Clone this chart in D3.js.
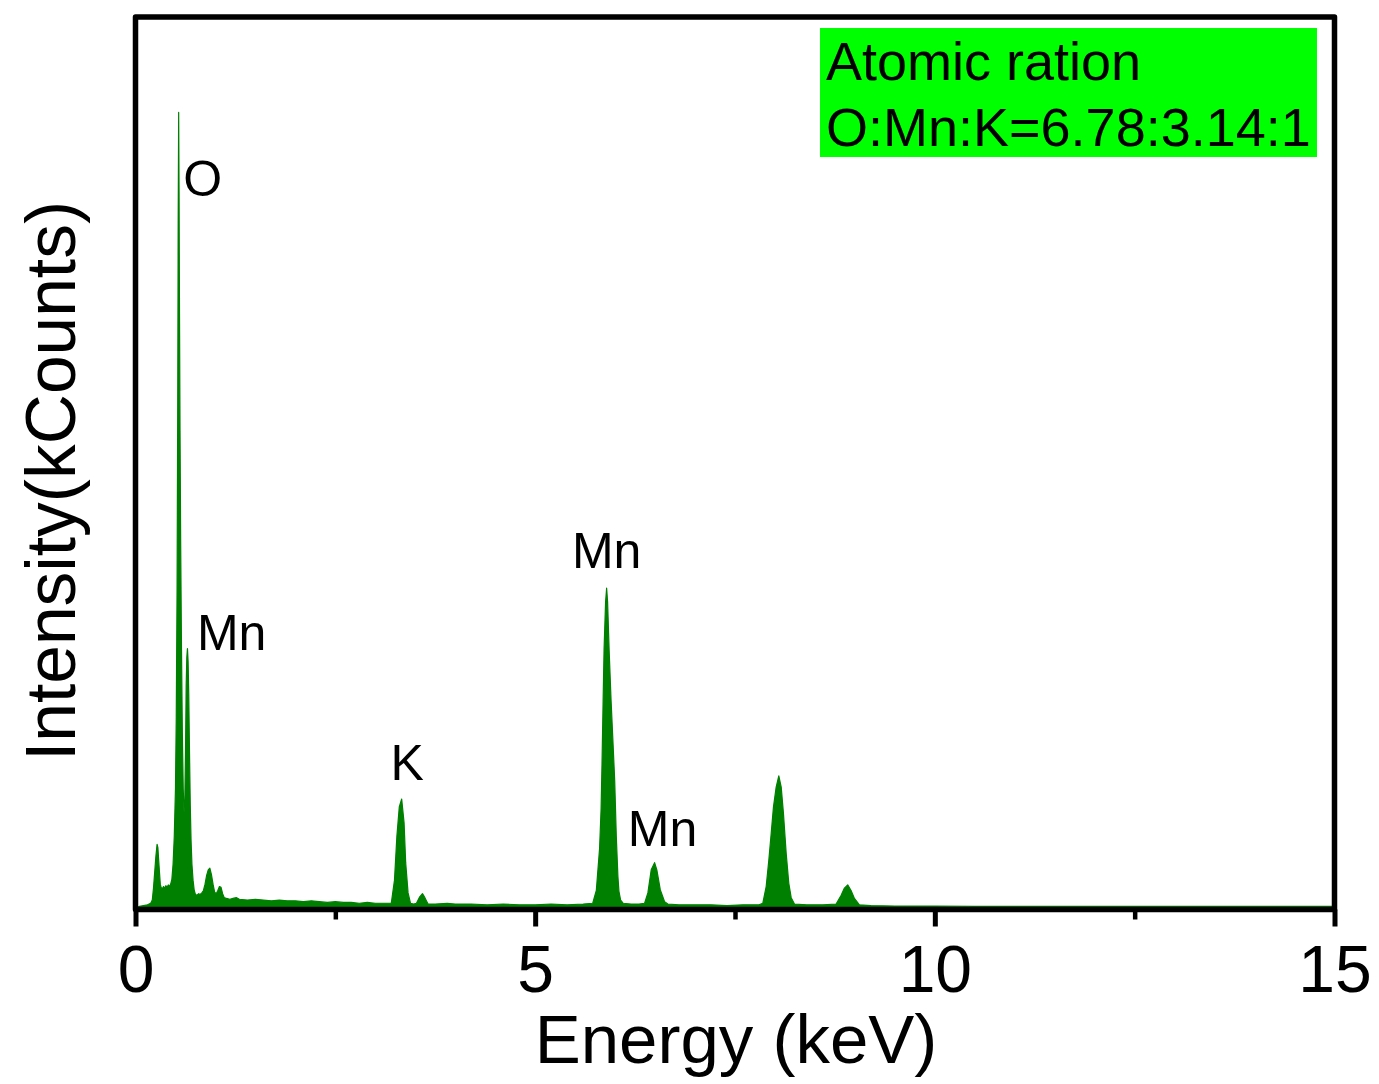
<!DOCTYPE html>
<html>
<head>
<meta charset="utf-8">
<title>EDS spectrum</title>
<script src="https://cdn.jsdelivr.net/npm/d3@7/dist/d3.min.js"></script>
<style>
  html, body { margin: 0; padding: 0; background: #fff; }
  svg { display: block; }
</style>
</head>
<body>
<svg id="chart" width="1379" height="1084"></svg>
<script>
// EDS spectrum: [energy (keV), intensity (kCounts)]
const spectrum = [
  [0.00, 0.00], [0.05, 0.02], [0.10, 0.03], [0.15, 0.04], [0.19, 0.06],
  [0.21, 0.10], [0.225, 0.25], [0.24, 0.45], [0.255, 0.65], [0.27, 0.80],
  [0.28, 0.76], [0.29, 0.60], [0.30, 0.45], [0.31, 0.30], [0.32, 0.26],
  [0.335, 0.24], [0.35, 0.27], [0.365, 0.25], [0.38, 0.28], [0.395, 0.26],
  [0.41, 0.29], [0.425, 0.27], [0.44, 0.30], [0.455, 0.36], [0.47, 0.55],
  [0.485, 0.90], [0.50, 1.50], [0.51, 2.40], [0.52, 4.00], [0.528, 6.20],
  [0.534, 8.60], [0.540, 10.00], [0.545, 9.00], [0.550, 7.60], [0.557, 6.00],
  [0.565, 4.60], [0.575, 3.30], [0.586, 2.20], [0.597, 1.50], [0.607, 1.20],
  [0.617, 1.35], [0.626, 2.00], [0.634, 2.80], [0.642, 3.15], [0.650, 3.26],
  [0.658, 3.10], [0.666, 2.70], [0.675, 2.00], [0.685, 1.30], [0.695, 0.85],
  [0.706, 0.55], [0.72, 0.35], [0.735, 0.22], [0.75, 0.17], [0.77, 0.16],
  [0.79, 0.18], [0.81, 0.17], [0.83, 0.19], [0.85, 0.22], [0.87, 0.30],
  [0.89, 0.41], [0.91, 0.48], [0.93, 0.50], [0.95, 0.42], [0.97, 0.30],
  [0.99, 0.20], [1.01, 0.18], [1.03, 0.22], [1.05, 0.27], [1.07, 0.26],
  [1.09, 0.18], [1.11, 0.13], [1.14, 0.12], [1.18, 0.11], [1.22, 0.12],
  [1.26, 0.13], [1.30, 0.11], [1.40, 0.10], [1.50, 0.11], [1.60, 0.10],
  [1.70, 0.09], [1.80, 0.10], [1.90, 0.09], [2.00, 0.09], [2.10, 0.08],
  [2.20, 0.09], [2.30, 0.08], [2.40, 0.07], [2.50, 0.08], [2.60, 0.07],
  [2.70, 0.07], [2.80, 0.06], [2.90, 0.07], [3.00, 0.06], [3.10, 0.06],
  [3.20, 0.06], [3.24, 0.35], [3.27, 0.90], [3.30, 1.27], [3.33, 1.37],
  [3.36, 1.07], [3.38, 0.57], [3.41, 0.19], [3.44, 0.06], [3.48, 0.05],
  [3.515, 0.06], [3.556, 0.14], [3.59, 0.18], [3.62, 0.13], [3.66, 0.05],
  [3.75, 0.05], [3.90, 0.06], [4.00, 0.05], [4.20, 0.05], [4.40, 0.04],
  [4.60, 0.05], [4.80, 0.04], [5.00, 0.04], [5.20, 0.05], [5.40, 0.04],
  [5.60, 0.05], [5.72, 0.06], [5.765, 0.22], [5.806, 0.75], [5.825, 1.25],
  [5.836, 1.80], [5.85, 2.60], [5.862, 3.25], [5.881, 3.85], [5.894, 4.02],
  [5.906, 3.85], [5.925, 3.25], [5.95, 2.60], [5.975, 2.05], [5.995, 1.60],
  [6.015, 0.90], [6.035, 0.40], [6.048, 0.21], [6.069, 0.10], [6.10, 0.06],
  [6.20, 0.05], [6.30, 0.05], [6.369, 0.06], [6.41, 0.19], [6.452, 0.48],
  [6.494, 0.57], [6.522, 0.48], [6.565, 0.23], [6.619, 0.08], [6.66, 0.05],
  [6.80, 0.04], [7.00, 0.04], [7.20, 0.04], [7.40, 0.03], [7.60, 0.04],
  [7.80, 0.04], [7.848, 0.06], [7.89, 0.27], [7.923, 0.60], [7.953, 0.94],
  [7.981, 1.27], [8.015, 1.52], [8.048, 1.66], [8.078, 1.52], [8.106, 1.19],
  [8.14, 0.69], [8.173, 0.31], [8.203, 0.13], [8.244, 0.05], [8.40, 0.04],
  [8.60, 0.04], [8.765, 0.05], [8.828, 0.16], [8.869, 0.25], [8.91, 0.29],
  [8.952, 0.22], [8.994, 0.12], [9.056, 0.04], [9.20, 0.03], [9.50, 0.025],
  [10.0, 0.025], [10.5, 0.02], [11.0, 0.02], [12.0, 0.02], [13.0, 0.02],
  [14.0, 0.02], [15.0, 0.02]
];

const xTickValues = [0, 5, 10, 15];
const xMinorTickValues = [2.5, 7.5, 12.5];
const peakNames = ["O", "Mn", "K", "Mn", "Mn"];
const peakEnergies = [0.540, 0.650, 3.33, 5.894, 6.494];
const ratioLines = ["Atomic ration", "O:Mn:K=6.78:3.14:1"];
const xTitle = "Energy (keV)";
const yTitle = "Intensity(kCounts)";

// ---- layout ----
const FONT = "'Liberation Sans', Arial, Helvetica, sans-serif";
const plot = { left: 135.5, right: 1334.5, top: 17, bottom: 909.5 };
const GREEN = "#008000";

const svg = d3.select("#chart");

const x = d3.scaleLinear().domain([0, 15]).range([plot.left, plot.right]);
const y = d3.scaleLinear().domain([0, 11.2]).range([908, plot.top]);

// spectrum fill
const area = d3.area()
  .x(d => x(d[0]))
  .y0(y(0))
  .y1(d => y(d[1]));

svg.append("path")
  .datum(spectrum)
  .attr("d", area)
  .attr("fill", GREEN)
  .attr("stroke", GREEN)
  .attr("stroke-width", 1.2)
  .attr("stroke-linejoin", "round");

// frame
svg.append("rect")
  .attr("x", plot.left)
  .attr("y", plot.top)
  .attr("width", plot.right - plot.left)
  .attr("height", plot.bottom - plot.top)
  .attr("fill", "none")
  .attr("stroke", "#000")
  .attr("stroke-width", 5.5)
  .attr("stroke-linejoin", "round");

// x axis: major ticks with labels
const xAxis = svg.append("g")
  .attr("transform", `translate(0,${plot.bottom})`)
  .call(d3.axisBottom(x).tickValues(xTickValues).tickSize(17).tickSizeOuter(0).tickPadding(18.5).tickFormat(d3.format("d")));
xAxis.select(".domain").remove();
xAxis.selectAll(".tick line").attr("stroke", "#000").attr("stroke-width", 5);
xAxis.selectAll(".tick text")
  .attr("fill", "#000")
  .style("font-family", FONT)
  .style("font-size", "66px");

// x axis: minor ticks
const xMinor = svg.append("g")
  .attr("transform", `translate(0,${plot.bottom})`)
  .call(d3.axisBottom(x).tickValues(xMinorTickValues).tickSize(10).tickSizeOuter(0).tickFormat(""));
xMinor.select(".domain").remove();
xMinor.selectAll(".tick line").attr("stroke", "#000").attr("stroke-width", 4.5);

// axis titles
svg.append("text")
  .attr("x", (plot.left + plot.right) / 2 + 1)
  .attr("y", 1063)
  .attr("text-anchor", "middle")
  .style("font-family", FONT)
  .style("font-size", "69px")
  .text(xTitle);

svg.append("text")
  .attr("transform", "translate(75,481) rotate(-90)")
  .attr("text-anchor", "middle")
  .style("font-family", FONT)
  .style("font-size", "69.5px")
  .text(yTitle);

// peak labels, placed relative to each peak's apex
const labelOffsets = [
  { dx: 4.5, dy: 84, anchor: "start" },
  { dx: 9.5, dy: 1, anchor: "start" },
  { dx: 5.5, dy: -19, anchor: "middle" },
  { dx: 0, dy: -20, anchor: "middle" },
  { dx: 8, dy: -17, anchor: "middle" }
];
function apexAt(e) {
  const near = spectrum.filter(d => Math.abs(d[0] - e) < 0.02);
  return d3.max(near, d => d[1]);
}
peakNames.forEach((name, i) => {
  const e = peakEnergies[i];
  const o = labelOffsets[i];
  svg.append("text")
    .attr("x", x(e) + o.dx)
    .attr("y", y(apexAt(e)) + o.dy)
    .attr("text-anchor", o.anchor)
    .style("font-family", FONT)
    .style("font-size", "50px")
    .text(name);
});

// atomic ratio box
const box = svg.append("g");
box.append("rect")
  .attr("x", 820)
  .attr("y", 28)
  .attr("width", 497)
  .attr("height", 129)
  .attr("fill", "#00ff00");
ratioLines.forEach((t, i) => {
  box.append("text")
    .attr("x", 826)
    .attr("y", 80 + i * 66)
    .style("font-family", FONT)
    .style("font-size", "54px")
    .text(t);
});
</script>
</body>
</html>
